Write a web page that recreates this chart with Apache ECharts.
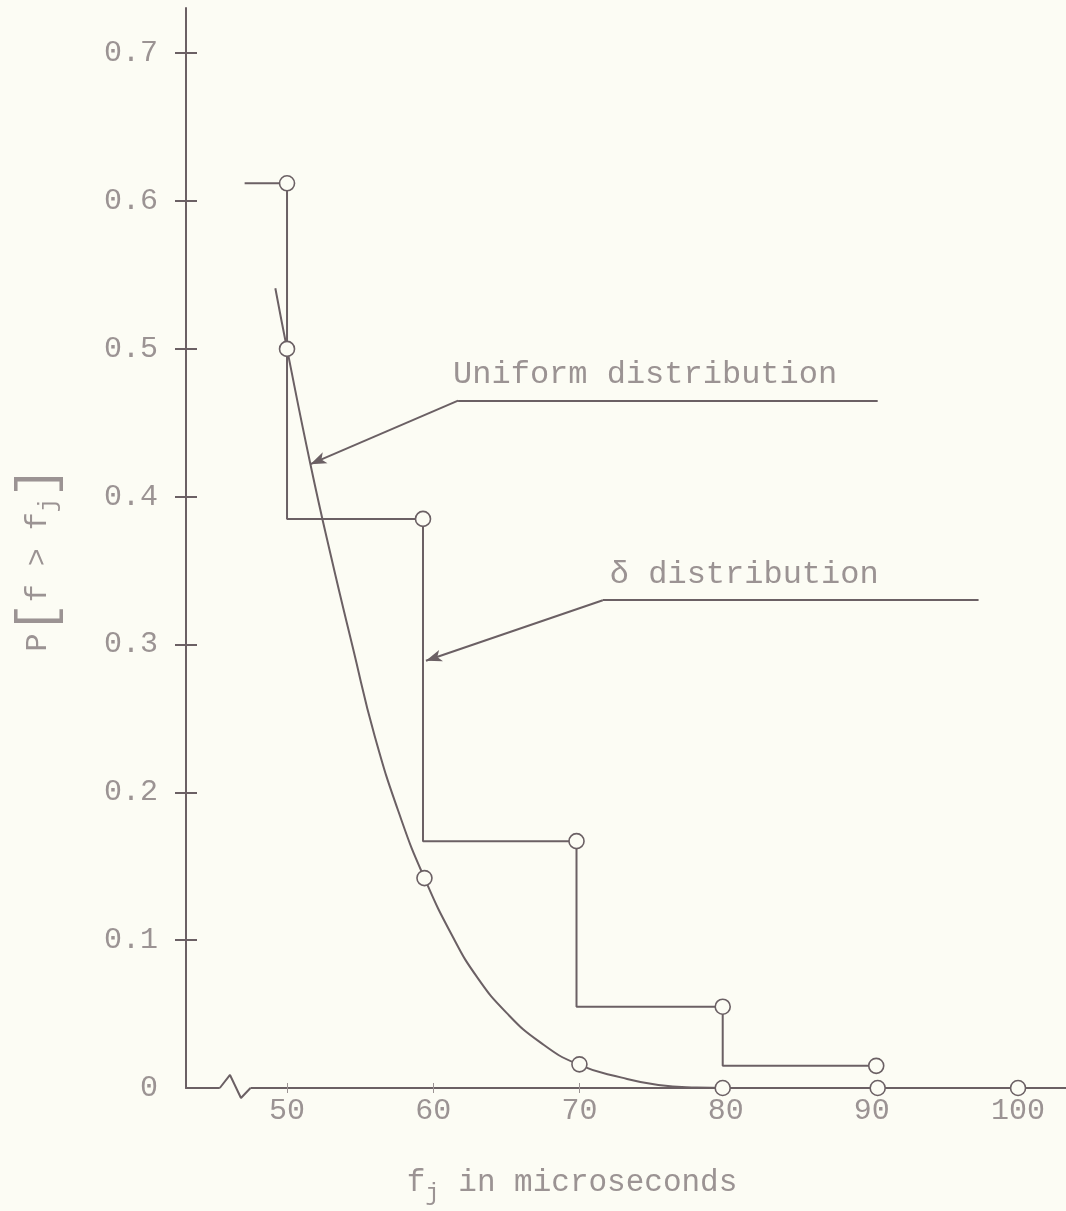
<!DOCTYPE html>
<html>
<head>
<meta charset="utf-8">
<title>P[f > fj] vs fj</title>
<script src="https://cdn.jsdelivr.net/npm/echarts@6/dist/echarts.min.js"></script>
<style>
  html, body { margin: 0; padding: 0; background: #fcfcf4; }
  #chart { width: 1066px; height: 1211px; }
</style>
</head>
<body>
<div id="chart"></div>
<script>
// delta distribution, step corners
var deltaX = [47.1, 50, 59.3, 69.8, 79.8, 90.3]
var deltaP = [0.612, 0.612, 0.385, 0.167, 0.055, 0.015]

// uniform distribution, points along the drawn curve
var uniformX = [49.2, 50, 51.6, 53, 54.5, 56, 57.8, 59.4, 61.3, 63, 65, 67.3, 69.9, 72.9, 75.4, 78, 80, 103]
var uniformP = [0.541, 0.5, 0.422, 0.36, 0.298, 0.238, 0.182, 0.142, 0.103, 0.075, 0.051, 0.031, 0.016, 0.007, 0.002, 0.0003, 0, 0]

// circled points of the uniform curve
var circleX = [50, 59.4, 70, 79.8, 90.4, 100]
var circleP = [0.5, 0.142, 0.016, 0, 0, 0]

var xTicks = [50, 60, 70, 80, 90, 100]
var yLabels = [0, 0.1, 0.2, 0.3, 0.4, 0.5, 0.6, 0.7]
var yTicks = [0.1, 0.2, 0.3, 0.4, 0.5, 0.6, 0.7]

// axis break on the x axis
var breakX = [45.4, 46.1, 46.85, 47.5]
var breakP = [0, 0.0088, -0.0068, 0]

// annotation leaders (data coords): shelf start, shelf end, arrow tip
var uniformNote = [[61.7, 0.465], [90.4, 0.465], [51.6, 0.422]]
var deltaNote = [[71.6, 0.33], [97.3, 0.33], [59.5, 0.289]]

var ink = '#6b6064'
var pencil = '#9b9393'
var paper = '#fcfcf4'
var mono = '"Liberation Mono", "DejaVu Sans Mono", monospace'

function pairs(xs, ys) {
  return xs.map(function (x, i) { return [x, ys[i]] })
}

function note(pts, text, shift) {
  return [
    [{ coord: pts[0], symbol: 'none' }, { coord: pts[1], symbol: 'none',
      label: { show: true, formatter: text, position: 'insideStartTop', distance: [shift, 10],
        color: pencil, fontFamily: mono, fontSize: 32 } }],
    [{ coord: pts[0], symbol: 'none' }, { coord: pts[2], symbol: 'arrow', symbolSize: [9, 16] }]
  ]
}

var ring = { color: paper, borderColor: ink, borderWidth: 1.6, opacity: 1 }

var chart = echarts.init(document.getElementById('chart'))

var xMin = 43.09, xMax = 103.28

chart.setOption({
  animation: false,
  backgroundColor: paper,
  grid: { left: 186, right: 0, top: 8, bottom: 121 },
  xAxis: [{
    type: 'value',
    min: xMin,
    max: xMax,
    splitLine: { show: false },
    axisLine: { lineStyle: { color: ink, width: 2 } },
    axisTick: { customValues: xTicks, length: 5, lineStyle: { color: pencil } },
    axisLabel: { customValues: xTicks, margin: 8, color: pencil, fontFamily: mono, fontSize: 30 },
    name: 'f{sub|j} in microseconds',
    nameLocation: 'middle',
    nameGap: 72,
    nameTextStyle: {
      color: pencil, fontFamily: mono, fontSize: 31, padding: [0, 108, 0, 0],
      rich: { sub: { fontFamily: mono, fontSize: 24, color: pencil, padding: [22, 0, 0, 0] } }
    }
  }, {
    type: 'value',
    position: 'bottom',
    min: xMin,
    max: xMax,
    splitLine: { show: false },
    axisLine: { show: false },
    axisTick: { customValues: xTicks, inside: true, length: 5, lineStyle: { color: pencil } },
    axisLabel: { show: false }
  }],
  yAxis: [{
    type: 'value',
    min: 0,
    max: 0.7306,
    splitLine: { show: false },
    axisLine: { lineStyle: { color: ink, width: 2 } },
    axisTick: { customValues: yTicks, length: 11, lineStyle: { color: ink, width: 2 } },
    axisLabel: {
      customValues: yLabels, margin: 28, color: pencil, fontFamily: mono, fontSize: 30,
      formatter: function (v) { return v === 0 ? '0' : v.toFixed(1) }
    },
    name: 'P{br|[}f > f{sub|j}{br|]}',
    nameLocation: 'middle',
    nameRotate: 90,
    nameGap: 122,
    nameTextStyle: {
      color: pencil, fontFamily: mono, fontSize: 30, padding: [0, 22, 0, 0],
      rich: {
        br: { fontFamily: mono, fontSize: 52, color: pencil },
        sub: { fontFamily: mono, fontSize: 24, color: pencil, padding: [22, 0, 0, 0] }
      }
    }
  }, {
    type: 'value',
    position: 'left',
    min: 0,
    max: 0.7306,
    splitLine: { show: false },
    axisLine: { show: false },
    axisTick: { customValues: yTicks, inside: true, length: 11, lineStyle: { color: ink, width: 2 } },
    axisLabel: { show: false }
  }],
  series: [
    {
      name: 'axis gap',
      type: 'line',
      data: [[breakX[0], 0], [breakX[3], 0]],
      symbol: 'none',
      silent: true,
      clip: false,
      lineStyle: { color: paper, width: 5 }
    },
    {
      name: 'axis break',
      type: 'line',
      data: pairs(breakX, breakP),
      symbol: 'none',
      silent: true,
      clip: false,
      lineStyle: { color: ink, width: 2 }
    },
    {
      name: 'Uniform distribution',
      type: 'line',
      smooth: 0.5,
      data: pairs(uniformX, uniformP),
      symbol: 'none',
      lineStyle: { color: ink, width: 2 },
      z: 3
    },
    {
      name: 'δ distribution',
      type: 'line',
      step: 'start',
      data: pairs(deltaX, deltaP).map(function (p, i) {
        return i === 0 ? { value: p, symbol: 'none' } : p
      }),
      symbol: 'circle',
      symbolSize: 15,
      itemStyle: ring,
      lineStyle: { color: ink, width: 2 },
      markLine: {
        silent: true,
        lineStyle: { color: ink, width: 2, type: 'solid' },
        data: note(uniformNote, 'Uniform distribution', -5).concat(note(deltaNote, 'δ distribution', 7))
      },
      z: 4
    },
    {
      name: 'uniform points',
      type: 'scatter',
      data: pairs(circleX, circleP),
      symbol: 'circle',
      symbolSize: 15,
      clip: false,
      itemStyle: ring,
      z: 5
    }
  ]
})
</script>
</body>
</html>
